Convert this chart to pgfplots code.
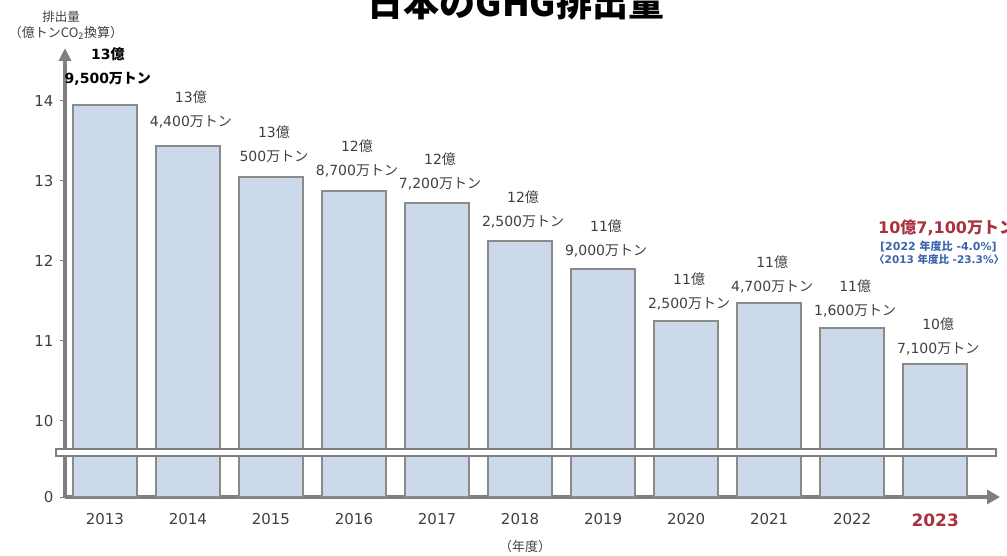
\documentclass[border=0pt]{standalone}
\usepackage{pgfplots}
\pgfplotsset{compat=1.18}
\usepackage{fontspec}
\setmainfont{DejaVu Sans}
\newfontfamily\cjk{Noto Sans CJK JP}
\usetikzlibrary{arrows.meta}
\definecolor{barfill}{HTML}{CCD9EA}
\definecolor{baredge}{HTML}{8A8A8A}
\definecolor{axgray}{HTML}{7F7F7F}
\definecolor{dred}{HTML}{A8323E}
\definecolor{dblue}{HTML}{3B64AE}
\definecolor{txt}{HTML}{404040}
\newcommand\J[1]{{\cjk #1}}
\tikzset{label node/.style={font=\fontsize{14}{24}\selectfont, text=txt, align=center, anchor=south, xshift=3pt}}
\begin{document}
\begin{tikzpicture}[x=1pt,y=1pt]
\begin{axis}[
  at={(65pt,58pt)}, anchor=south west,
  scale only axis, width=935pt, height=449pt,
  xmin=-0.48, xmax=10.78, ymin=9.05, ymax=14.66,
  axis x line=bottom, axis y line=left,
  axis line style={axgray, line width=4pt},
  x axis line style={-{Triangle[width=14pt,length=13pt]}},
  y axis line style={-{Triangle[width=12pt,length=13pt]}},
  ybar, bar width=64pt,
  xtick={0,1,2,3,4,5,6,7,8,9,10},
  xticklabels={2013,2014,2015,2016,2017,2018,2019,2020,2021,2022,{\textcolor{dred}{\fontsize{17}{19}\selectfont\bfseries 2023}}},
  ytick={9.05,10,11,12,13,14},
  yticklabels={0,10,11,12,13,14},
  tick align=outside, major tick length=5pt,
  xtick style={draw=none},
  ytick style={axgray, line width=1pt},
  ticklabel style={font=\fontsize{15}{17}\selectfont, text=txt},
  xticklabel style={yshift=-8pt},
  yticklabel style={xshift=-3pt},
  clip=false,
]
\addplot[fill=barfill, draw=baredge, line width=2pt] coordinates {
  (0,13.95) (1,13.44) (2,13.05) (3,12.87) (4,12.72) (5,12.25)
  (6,11.90) (7,11.25) (8,11.47) (9,11.16) (10,10.71)};
\node[label node, yshift=16pt, text=black, font=\fontsize{14}{24}\selectfont\bfseries] at (axis cs:0,13.95) {13\J{億}\\9,500\J{万トン}};
\node[label node, yshift=14pt] at (axis cs:1,13.44) {13\J{億}\\4,400\J{万トン}};
\node[label node, yshift=11pt] at (axis cs:2,13.05) {13\J{億}\\500\J{万トン}};
\node[label node, yshift=11pt] at (axis cs:3,12.87) {12\J{億}\\8,700\J{万トン}};
\node[label node, yshift=10pt] at (axis cs:4,12.72) {12\J{億}\\7,200\J{万トン}};
\node[label node, yshift=9pt] at (axis cs:5,12.25) {12\J{億}\\2,500\J{万トン}};
\node[label node, yshift=8pt] at (axis cs:6,11.90) {11\J{億}\\9,000\J{万トン}};
\node[label node, yshift=7pt] at (axis cs:7,11.25) {11\J{億}\\2,500\J{万トン}};
\node[label node, yshift=7pt] at (axis cs:8,11.47) {11\J{億}\\4,700\J{万トン}};
\node[label node, yshift=7pt] at (axis cs:9,11.16) {11\J{億}\\1,600\J{万トン}};
\node[label node, yshift=5pt] at (axis cs:10,10.71) {10\J{億}\\7,100\J{万トン}};
\end{axis}
% axis break band
\draw[axgray, line width=1.5pt, fill=white] (56,99) rectangle (996,106);
% title
\node[anchor=base, font=\fontsize{36}{40}\selectfont\cjk\bfseries] at (516,538) {日本のGHG排出量};
% y label
\node[font=\fontsize{12.5}{15}\selectfont\cjk, text=txt] at (61,538) {排出量};
\node[font=\fontsize{13}{15}\selectfont\cjk, text=txt] at (66,522) {（億トンCO\textsubscript{2}換算）};
% x label
\node[font=\fontsize{13}{15}\selectfont\cjk, text=txt] at (525,8) {（年度）};
% callout
\node[anchor=base west, inner sep=0pt, text=dred, font=\fontsize{16}{18}\selectfont\bfseries] at (878,321) {10\J{億}7,100\J{万トン}};
\node[anchor=west, inner sep=0pt, text=dblue, font=\fontsize{11}{13}\selectfont\bfseries] at (880,308) {[2022 \J{年度比} -4.0\%]};
\node[anchor=west, inner sep=0pt, text=dblue, font=\fontsize{10.5}{13}\selectfont\bfseries] at (874,295) {\J{〈}2013 \J{年度比} -23.3\%\J{〉}};
\pgfresetboundingbox
\useasboundingbox (0,0) rectangle (1007,555);
\end{tikzpicture}
\end{document}
